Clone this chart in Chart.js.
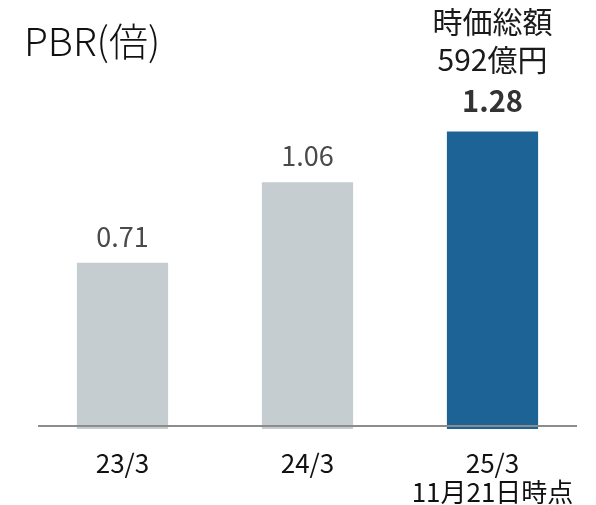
<!DOCTYPE html>
<html lang="ja">
<head>
<meta charset="utf-8">
<script src="https://cdn.jsdelivr.net/npm/chart.js@4.4.1/dist/chart.umd.min.js"></script>
<style>
  html, body { margin: 0; padding: 0; background: #fff; }
  #wrap { width: 596px; height: 505px; }
</style>
</head>
<body>
<div id="wrap"><canvas id="pbrChart"></canvas></div>
<script>
const categories = [["23/3"], ["24/3"], ["25/3", "11月21日時点"]];
const pbrValues = [0.71, 1.06, 1.28];
const barColors = ["#c5cdd1", "#c5cdd1", "#1e6396"];
const noteLines = ["時価総額", "592億円"];
const chartTitle = "PBR(倍)";

const jpFont = "'Noto Sans CJK JP', 'Noto Sans', sans-serif";
const BAR_DROP = -0.013; // bars sink a few px below the base line

// base line, value labels, note and title
const labelPlugin = {
  id: "pbrLabels",
  afterDatasetsDraw(chart) {
    const { ctx, chartArea, scales } = chart;
    const meta = chart.getDatasetMeta(0);
    const y0 = scales.y.getPixelForValue(0);

    ctx.save();
    ctx.strokeStyle = "#8c8c8c";
    ctx.lineWidth = 2;
    ctx.beginPath();
    ctx.moveTo(chartArea.left + 8, y0);
    ctx.lineTo(chartArea.right - 8, y0);
    ctx.stroke();

    ctx.textAlign = "center";
    ctx.textBaseline = "middle";
    meta.data.forEach((bar, i) => {
      const last = i === pbrValues.length - 1;
      ctx.fillStyle = last ? "#333" : "#4a4a4a";
      ctx.font = (last ? "bold 29px " : "27px ") + jpFont;
      ctx.fillText(pbrValues[i].toFixed(2), bar.x, bar.y - (last ? 31 : 26));
      if (last) {
        ctx.fillStyle = "#1a1a1a";
        ctx.font = "30px " + jpFont;
        ctx.fillText(noteLines[1], bar.x, bar.y - 72);
        ctx.fillText(noteLines[0], bar.x, bar.y - 110);
      }
    });

    ctx.textAlign = "left";
    ctx.fillStyle = "#111";
    ctx.font = "300 39px " + jpFont;
    ctx.fillText(chartTitle, 24, 41);
    ctx.restore();
  }
};

const ctx = document.getElementById("pbrChart").getContext("2d");
const pbrChart = new Chart(ctx, {
  type: "bar",
  data: {
    labels: categories,
    datasets: [
      {
        data: pbrValues.map(v => [BAR_DROP, v]),
        backgroundColor: barColors,
        categoryPercentage: 1,
        barPercentage: 0.493,
      },
    ],
  },
  options: {
    responsive: true,
    maintainAspectRatio: false,
    animation: false,
    layout: { padding: { top: 58, left: 30, right: 11, bottom: 0 } },
    plugins: {
      legend: { display: false },
      tooltip: { enabled: false },
    },
    scales: {
      x: {
        grid: { display: false, drawTicks: false },
        border: { display: false },
        ticks: {
          color: "#111",
          padding: 20,
          font: { family: jpFont, size: 26, lineHeight: 1.1 },
        },
        afterFit: (scale) => { scale.height = 76; },
      },
      y: { display: false, min: BAR_DROP, max: 1.6 },
    },
  },
  plugins: [labelPlugin],
});
</script>
</body>
</html>
